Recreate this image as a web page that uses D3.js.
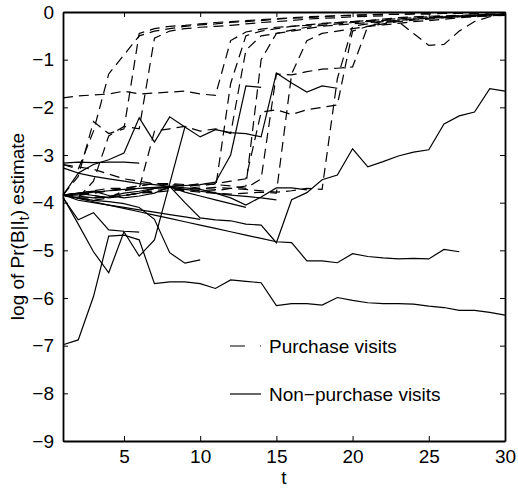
<html>
<head>
<meta charset="utf-8">
<title>log Pr(B|I_t)</title>
<script src="https://cdn.jsdelivr.net/npm/d3@7"></script>
<style>
  body { margin: 0; background: #fff; }
  text { font-family: "Liberation Sans", Arial, sans-serif; fill: #000; }
</style>
</head>
<body>
<svg id="chart" width="518" height="491"></svg>
<script>
    // ticks
    var xTicks = [5, 10, 15, 20, 25, 30];
    var yTicks = [0, -1, -2, -3, -4, -5, -6, -7, -8, -9];

    // non-purchase visits (solid), values start at t = 1
    var np1 = [-3.85, -3.8, -3.85, -3.9, -3.85, -3.8, -3.7, -3.66, -4.0, -4.32, -4.36, -4.38, -4.45, -4.47, -4.84,
        -3.94, -3.79, -3.52, -3.42, -2.87, -3.25, -3.14, -3.02, -2.94, -2.89, -2.35, -2.18, -2.1, -1.61, -1.66];
    var np2 = [-3.84, -3.91, -3.98, -4.05, -4.12, -4.19, -4.26, -4.33, -4.4, -4.47, -4.54, -4.61, -4.68, -4.75, -4.82,
        -4.84, -5.22, -5.22, -5.26, -5.07, -5.13, -5.16, -5.18, -5.17, -5.18, -4.98, -5.03];
    var np3 = [-6.98, -6.88, -5.97, -4.7, -4.68, -4.78, -5.7, -5.66, -5.66, -5.7, -5.8, -5.62, -5.65, -5.68, -6.16,
        -6.12, -6.12, -6.15, -5.99, -6.05, -6.1, -6.12, -6.12, -6.13, -6.17, -6.2, -6.26, -6.26, -6.3, -6.36];
    var np4 = [-3.27, -3.38, -3.2, -3.1, -2.96, -2.22, -2.73, -2.2, -2.41, -2.62, -2.47, -2.53, -2.55, -2.62, -1.28,
        -1.49, -1.68, -1.55, -1.6];
    var np5 = [-3.88, -4.45, -5.03, -5.47, -4.61, -5.12, -4.78, -3.6, -2.41];
    var np6 = [-3.9, -4.36, -4.21, -4.57, -4.6, -4.62];
    var np7 = [-3.84, -3.9, -3.95, -3.98, -4.02, -4.1, -4.35, -5.05, -5.27, -5.2];
    var np8 = [-3.84, -3.82, -3.78, -3.75, -3.72, -3.7, -3.68, -3.66, -3.64, -3.62, -3.57, -3.0, -1.55, -1.58];
    var np9 = [-3.84, -3.38, -3.45, -3.5, -3.55, -3.6, -3.62, -3.66, -3.69, -3.72, -3.8, -3.9, -4.05, -3.88, -3.69,
        -3.69, -3.73];
    var np10 = [-3.17, -3.15, -3.16, -3.15, -3.15, -3.17];
    var np11 = [-3.84, -3.86, -3.9, -3.88, -3.8, -3.76, -3.7, -3.67, -3.78, -3.86, -3.94, -4.02, -4.1];
    var np12 = [-3.84, -3.8, -3.76, -3.85, -3.9, -3.86, -3.8, -3.67, -3.72, -3.76, -3.8, -3.84, -3.87, -3.9, -3.94];
    var np13 = [-3.84, -3.95, -4.0, -4.05, -4.1, -4.15, -4.2, -4.25, -4.3, -4.35];

    // purchase visits (dashed)
    var p1 = [-1.8, -1.76, -1.74, -1.72, -1.66, -1.72, -1.7, -1.68, -1.66, -1.72, -1.75, -0.6, -0.42, -0.36, -0.32,
        -0.3, -0.27, -0.24, -0.22, -0.2, -0.18, -0.16, -0.14, -0.12, -0.1, -0.09, -0.08, -0.07, -0.06, -0.05];
    var p2 = [-3.84, -3.45, -2.3, -2.55, -2.45, -0.45, -0.35, -0.3, -0.28, -0.25, -0.22, -0.2, -0.18, -0.16, -0.14,
        -0.12, -0.1, -0.09, -0.08, -0.07, -0.06, -0.05, -0.05, -0.04, -0.04, -0.03, -0.03, -0.03, -0.02, -0.02];
    var p3 = [-3.84, -3.9, -3.55, -2.6, -2.4, -2.45, -0.55, -0.4, -0.35, -0.32, -0.3, -0.28, -0.25, -0.22, -0.2,
        -0.18, -0.15, -0.13, -0.12, -0.1, -0.09, -0.08];
    var p4 = [-3.2, -3.3, -2.5, -1.3, -0.9, -0.5, -0.4, -0.35, -0.3, -0.27, -0.25, -0.22, -0.2, -0.18, -0.15,
        -0.13, -0.12, -0.1, -0.08, -0.07, -0.06, -0.05, -0.05, -0.04, -0.04];
    var p5 = [-3.84, -3.8, -3.85, -3.9, -3.75, -3.7, -2.5, -2.45, -2.4, -2.5, -2.45, -2.55, -0.8, -0.5, -0.45,
        -0.4, -0.35, -0.3, -0.27, -0.25, -0.22, -0.2, -0.18, -0.15, -0.13, -0.12, -0.1, -0.09, -0.08, -0.07];
    var p6 = [-3.84, -3.8, -3.75, -3.7, -3.7, -3.65, -3.6, -3.62, -3.65, -3.7, -3.72, -1.5, -0.5, -0.4, -0.35,
        -0.3, -0.28, -0.25, -0.22, -0.2, -0.18, -0.15, -0.12, -0.1, -0.09, -0.08, -0.07, -0.06, -0.05, -0.04];
    var p7 = [-3.84, -3.9, -3.95, -3.9, -3.85, -3.8, -3.75, -3.7, -3.72, -3.75, -3.75, -3.7, -3.65, -1.0, -0.45,
        -0.38, -0.32, -0.28, -0.25, -0.22, -0.2, -0.18, -0.15, -0.13, -0.12, -0.1, -0.09, -0.08, -0.07, -0.06];
    var p8 = [-3.84, -3.85, -3.8, -3.75, -3.72, -3.7, -3.68, -3.7, -3.75, -3.78, -3.8, -3.82, -3.8, -3.78, -3.8,
        -1.3, -0.6, -0.45, -0.4, -0.35, -0.3, -0.27, -0.24, -0.2, -0.18, -0.15, -0.12, -0.1, -0.08, -0.06];
    var p9 = [-3.84, -3.9, -3.9, -3.88, -3.85, -3.8, -3.78, -3.75, -3.72, -3.7, -3.68, -3.7, -3.72, -3.75, -3.78,
        -3.75, -3.7, -3.72, -1.4, -0.3, -0.25, -0.2, -0.18, -0.15, -0.13, -0.1, -0.08, -0.06, -0.05, -0.04];
    var p10 = [-3.84, -3.82, -3.8, -3.75, -3.7, -3.65, -3.6, -3.6, -3.62, -3.65, -3.6, -3.55, -3.5, -2.1, -2.05,
        -2.15, -2.05, -2.0, -1.95, -0.4, -0.3, -0.25, -0.2, -0.17, -0.15, -0.12, -0.1, -0.08, -0.06, -0.05];
    var p11 = [-3.2, -3.25, -3.3, -3.4, -3.5, -3.55, -3.6, -3.62, -3.65, -3.6, -3.62, -3.65, -3.7, -3.5, -1.3,
        -1.32, -1.25, -1.2, -1.18, -1.15, -0.3, -0.22, -0.2, -0.45, -0.7, -0.68, -0.4, -0.2, -0.1, -0.05];

    var solidSeries = [np1, np2, np3, np4, np5, np6, np7, np8, np9, np10, np11, np12, np13];
    var dashedSeries = [p1, p2, p3, p4, p5, p6, p7, p8, p9, p10, p11];

    var svg = d3.select("#chart");
    var x = d3.scaleLinear().domain([1, 30]).range([63, 505]);
    var y = d3.scaleLinear().domain([-9, 0]).range([441, 12]);
    var fs = 19;

    var line = d3.line()
        .x(function(d, i) { return x(i + 1); })
        .y(function(d) { return y(d); });

    var plot = svg.append("g");

    plot.selectAll(".solid")
        .data(solidSeries)
        .enter().append("path")
        .attr("class", "solid")
        .attr("d", line)
        .style("fill", "none")
        .style("stroke", "#000")
        .style("stroke-width", 1.2);

    plot.selectAll(".dashed")
        .data(dashedSeries)
        .enter().append("path")
        .attr("class", "dashed")
        .attr("d", line)
        .style("fill", "none")
        .style("stroke", "#000")
        .style("stroke-width", 1.2)
        .style("stroke-dasharray", "10,6");

    // axes, MATLAB style: ticks inside, box all round
    function minus(d) { return d < 0 ? "\u2212" + Math.abs(d) : "" + d; }

    svg.append("g").attr("transform", "translate(0,441)")
        .call(d3.axisBottom(x).tickValues(xTicks).tickSizeInner(-5).tickSizeOuter(0).tickPadding(9));
    svg.append("g").attr("transform", "translate(0,12)")
        .call(d3.axisTop(x).tickValues(xTicks).tickSizeInner(-5).tickSizeOuter(0).tickFormat(""));
    svg.append("g").attr("transform", "translate(63,0)")
        .call(d3.axisLeft(y).tickValues(yTicks).tickSizeInner(-5).tickSizeOuter(0).tickPadding(9).tickFormat(minus));
    svg.append("g").attr("transform", "translate(505,0)")
        .call(d3.axisRight(y).tickValues(yTicks).tickSizeInner(-5).tickSizeOuter(0).tickFormat(""));

    svg.selectAll(".domain").style("stroke", "#000").style("stroke-width", 1.8);
    svg.selectAll(".tick line").style("stroke", "#000").style("stroke-width", 1);
    svg.selectAll(".tick text")
        .style("font-family", "'Liberation Sans', Arial, sans-serif")
        .style("font-size", fs + "px")
        .style("fill", "#000");

    // axis titles
    svg.append("text")
        .attr("x", x(15.5)).attr("y", 484)
        .attr("text-anchor", "middle")
        .style("font-size", fs + "px")
        .text("t");

    var ylab = svg.append("text")
        .attr("transform", "translate(24," + y(-4.5) + ") rotate(-90)")
        .attr("text-anchor", "middle")
        .style("font-size", fs + "px");
    ylab.append("tspan").text("log of Pr(B|I");
    ylab.append("tspan").attr("dy", 5).style("font-size", (fs - 5) + "px").text("t");
    ylab.append("tspan").attr("dy", -5).text(") estimate");

    // legend (no box)
    var legend = [
        { label: "Purchase visits", dash: "15,15", yy: 346 },
        { label: "Non\u2212purchase visits", dash: null, yy: 394 }
    ];
    var lg = svg.selectAll(".leg").data(legend).enter().append("g").attr("class", "leg");
    lg.append("line")
        .attr("x1", 230).attr("x2", 261)
        .attr("y1", function(d) { return d.yy; }).attr("y2", function(d) { return d.yy; })
        .style("stroke", "#000").style("stroke-width", 1.2)
        .style("stroke-dasharray", function(d) { return d.dash; });
    lg.append("text")
        .attr("x", 269).attr("y", function(d) { return d.yy + 7; })
        .style("font-size", fs + "px")
        .text(function(d) { return d.label; });
</script>
</body>
</html>
